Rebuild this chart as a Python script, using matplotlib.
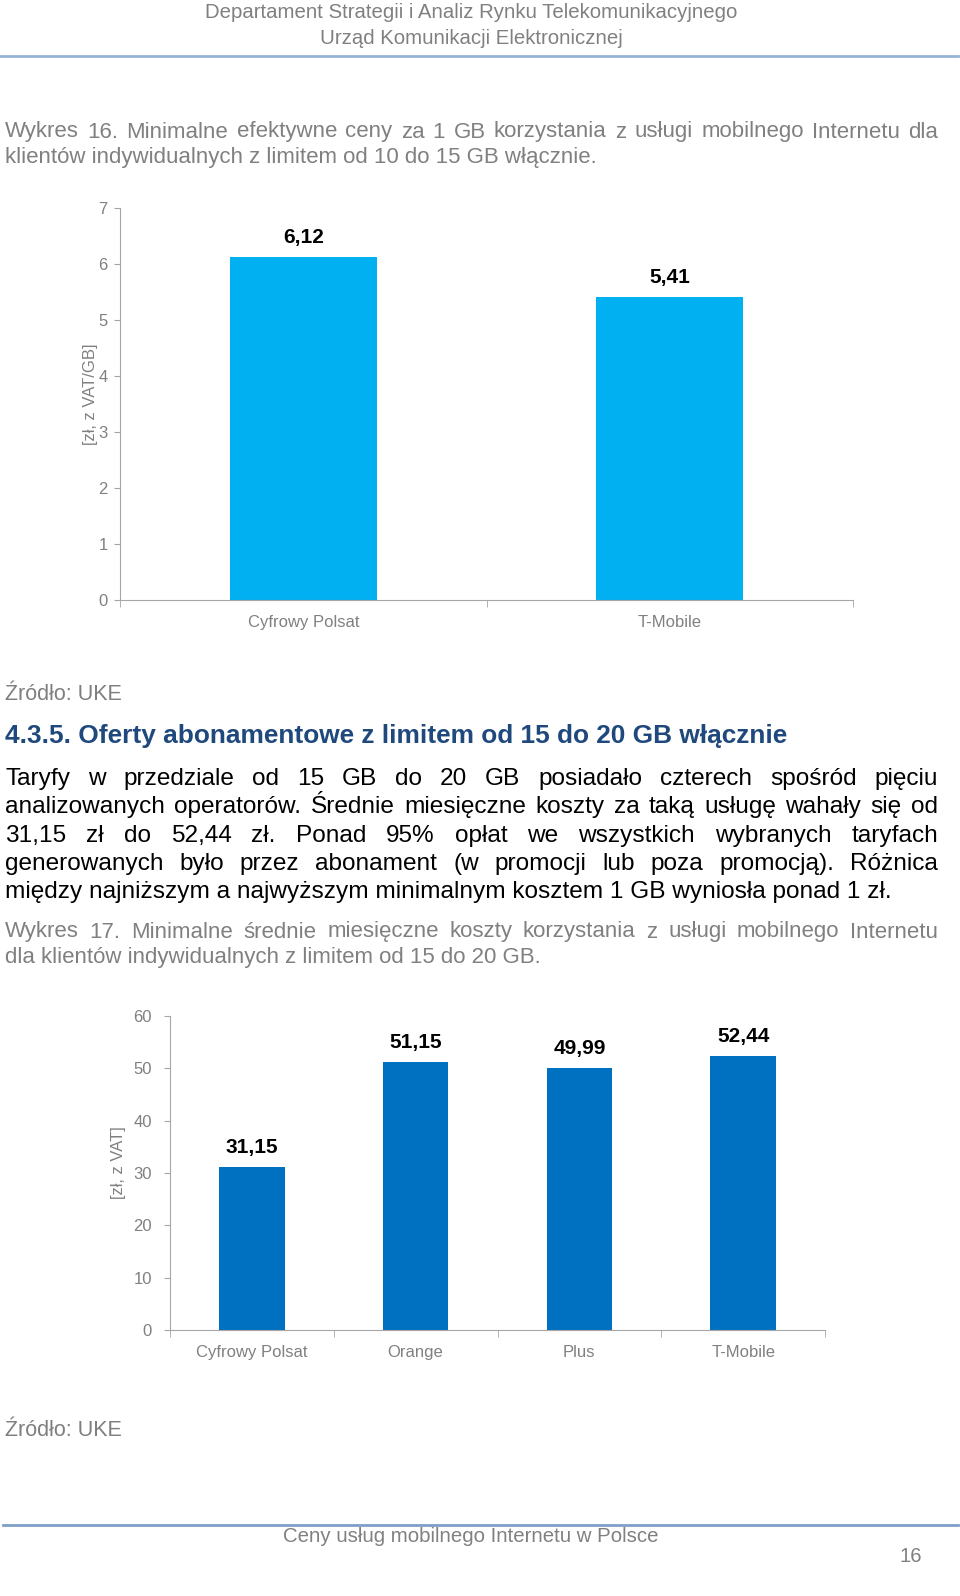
import numpy as np
import matplotlib
matplotlib.use('Agg')
import matplotlib.pyplot as plt
from matplotlib.lines import Line2D

plt.rcParams['font.family'] = ['Liberation Sans', 'DejaVu Sans']

# data
operators_16 = ['Cyfrowy Polsat', 'T-Mobile']
prices_16 = [6.12, 5.41]
operators_17 = ['Cyfrowy Polsat', 'Orange', 'Plus', 'T-Mobile']
costs_17 = [31.15, 51.15, 49.99, 52.44]

W, H = 960, 1596
gray = '#808080'
axcol = '#a6a6a6'
rulecol = '#95b3d7'

fig = plt.figure(figsize=(W / 100, H / 100), dpi=100)
renderer = fig.canvas.get_renderer()


def fx(x):
    return x / W


def fy(y):
    return 1 - y / H


def put(x, y, s, size, color='black', ha='left', weight='normal'):
    return fig.text(fx(x), fy(y), s, fontsize=size, color=color, ha=ha,
                    va='center', fontweight=weight)


def justify(y, line, size, color='black', x0=5, x1=938):
    # spread words so the line fills x0..x1
    words = line.split()
    texts = [put(x0, y, w, size, color) for w in words]
    widths = [t.get_window_extent(renderer).width for t in texts]
    gap = (x1 - x0 - sum(widths)) / (len(words) - 1)
    x = x0
    for t, w in zip(texts, widths):
        t.set_x(fx(x))
        x += w + gap


# header / footer
put(471, 12, 'Departament Strategii i Analiz Rynku Telekomunikacyjnego', 14.7, gray, 'center')
put(471, 39, 'Urząd Komunikacji Elektronicznej', 14.7, gray, 'center')
fig.add_artist(Line2D([fx(0), fx(958)], [fy(56), fy(56)], color=rulecol, lw=2))
fig.add_artist(Line2D([fx(3), fx(958)], [fy(1525), fy(1525)], color='#7f9fc8', lw=2))
put(471, 1537, 'Ceny usług mobilnego Internetu w Polsce', 14.7, gray, 'center')
put(922, 1557, '16', 14.7, gray, 'right')

# text of the page
justify(132, 'Wykres 16. Minimalne efektywne ceny za 1 GB korzystania z usługi mobilnego Internetu dla', 16, gray)
put(5, 158, 'klientów indywidualnych z limitem od 10 do 15 GB włącznie.', 16, gray)
put(5, 694, 'Źródło: UKE', 15.5, '#7f7f7f')
put(5, 736, '4.3.5. Oferty abonamentowe z limitem od 15 do 20 GB włącznie', 18.9, '#1f497d', weight='bold')
body = ['Taryfy w przedziale od 15 GB do 20 GB posiadało czterech spośród pięciu',
        'analizowanych operatorów. Średnie miesięczne koszty za taką usługę wahały się od',
        '31,15 zł do 52,44 zł. Ponad 95% opłat we wszystkich wybranych taryfach',
        'generowanych było przez abonament (w promocji lub poza promocją). Różnica']
for i, line in enumerate(body):
    justify(779 + i * 28.3, line, 17.6)
put(5, 892, 'między najniższym a najwyższym minimalnym kosztem 1 GB wyniosła ponad 1 zł.', 17.6)
justify(932, 'Wykres 17. Minimalne średnie miesięczne koszty korzystania z usługi mobilnego Internetu', 16, gray)
put(5, 958, 'dla klientów indywidualnych z limitem od 15 do 20 GB.', 16, gray)
put(5, 1430, 'Źródło: UKE', 15.5, '#7f7f7f')


def bar_chart(left, right, top, bottom, cats, vals, color, ymax, ystep,
              ylabel, ylab_x, ypad):
    ax = fig.add_axes([fx(left), fy(bottom), (right - left) / W, (bottom - top) / H])
    x = np.arange(len(cats))
    bars = ax.bar(x, vals, width=0.4, color=color)
    ax.set_xlim(-0.5, len(cats) - 0.5)
    ax.set_ylim(0, ymax)
    ax.set_yticks(np.arange(0, ymax + ystep / 2, ystep))
    ax.set_xticks(x)
    ax.set_xticklabels(cats)
    ax.set_xticks(np.arange(-0.5, len(cats)), minor=True)
    ax.tick_params(axis='x', which='major', length=0, pad=11, labelcolor=gray, labelsize=12)
    ax.tick_params(axis='x', which='minor', length=5, color=axcol)
    ax.tick_params(axis='y', length=4, color=axcol, labelcolor=gray, labelsize=12, pad=ypad)
    for s in ['top', 'right']:
        ax.spines[s].set_visible(False)
    for s in ['left', 'bottom']:
        ax.spines[s].set_color(axcol)
    for b, v in zip(bars, vals):
        ax.annotate(f'{v:.2f}'.replace('.', ','), (b.get_x() + b.get_width() / 2, v),
                    xytext=(0, 14), textcoords='offset points', ha='center', va='center',
                    fontsize=15, fontweight='bold')
    fig.text(fx(ylab_x), fy((top + bottom) / 2 - 10), ylabel, rotation=90, fontsize=12,
             color=gray, ha='center', va='center')
    return ax


bar_chart(120, 853, 208, 600, operators_16, prices_16, '#00b0f0', 7, 1,
          '[zł, z VAT/GB]', 90, 5)
bar_chart(170, 825, 1016, 1330, operators_17, costs_17, '#0070c0', 60, 10,
          '[zł, z VAT]', 118, 9)

fig.savefig('out.png', dpi=100)
